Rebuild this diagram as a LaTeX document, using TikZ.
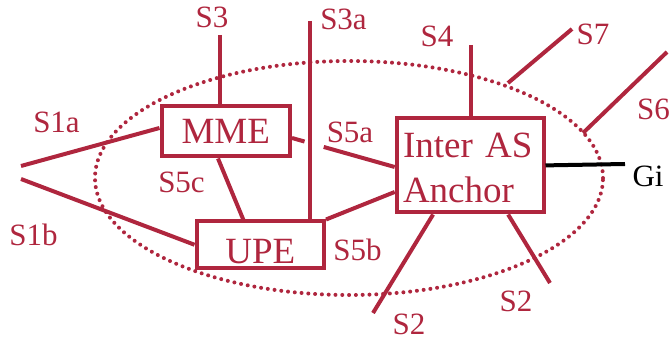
\documentclass[tikz,border=0pt]{standalone}
\usepackage{fontspec}
\setmainfont{Liberation Serif}
\usetikzlibrary{calc}
\definecolor{netred}{RGB}{175,38,62}
\begin{document}
\begin{tikzpicture}[x=1pt,y=-1pt,
  netlink/.style={draw=netred,line width=4pt},
  entity/.style={draw=netred,line width=4pt,text=netred,inner sep=0pt,
    font=\fontsize{37}{45.4}\selectfont},
  iface/.style={text=netred,inner sep=0pt,anchor=base,
    font=\fontsize{31}{34}\selectfont},
  asboundary/.style={draw=netred,line width=4pt,line cap=round,
    dash pattern=on 0pt off 6.8pt}]
\useasboundingbox (0,0) rectangle (672,339);

% network domain boundary
\draw[asboundary] (349,178) ellipse [x radius=254pt, y radius=117pt];

% network entities
\node[entity,minimum width=128.5pt,minimum height=50pt] (mme) at (225.75,131.5) {MME};
\node[entity,minimum width=127.5pt,minimum height=46.5pt,
      text height=36.5pt,text depth=0pt] (upe) at (260.25,244.75) {UPE};
\node[entity,minimum width=146.8pt,minimum height=94.2pt,align=left,
      text width=134.2pt,text height=24.5pt,text depth=40.7pt] (anchor) at (470.1,165.4) {Inter AS\\Anchor};

% free ends of the external interfaces
\coordinate (s1a) at (21,166);
\coordinate (s1b) at (21,179);
\coordinate (s3) at (220,35);
\coordinate (s3a) at (310,21);
\coordinate (s4) at (471,45);
\coordinate (s7in) at (508,83);
\coordinate (s7out) at (572,29);
\coordinate (s6in) at (583,133);
\coordinate (s6out) at (667,52);
\coordinate (gi) at (625,164);
\coordinate (s2l) at (373,313);
\coordinate (s2r) at (550,283);

% interfaces
\draw[netlink] (s1a) -- ([yshift=3.5pt]mme.west);
\draw[netlink] (s1b) -- (upe.west);
\draw[netlink] (s3) -- (s3 |- mme.north);
\draw[netlink] (s3a) -- (s3a |- upe.north);
\draw[netlink] ([xshift=-7.75pt]mme.south) -- ([xshift=-17pt]upe.north);
\coordinate (s5a0) at ([yshift=-6.5pt]mme.east);
\coordinate (s5a1) at ([yshift=-1.6pt]anchor.west);
\draw[netlink] (s5a0) -- ($(s5a0)!0.122!(s5a1)$);
\draw[netlink] ($(s5a0)!0.309!(s5a1)$) -- (s5a1);
\draw[netlink] (upe.north east) -- ([yshift=-26.6pt]anchor.west);
\draw[netlink] (s4) -- (s4 |- anchor.north);
\draw[netlink] (s7in) -- (s7out);
\draw[netlink] (s6in) -- (s6out);
\draw[line width=4pt,draw=black] (anchor.east) -- (gi);
\draw[netlink] ([xshift=-37pt]anchor.south) -- (s2l);
\draw[netlink] ([xshift=38pt]anchor.south) -- (s2r);

% interface names
\node[iface] (ls1a) at (56.5,133) {S1a};
\node[iface] (ls1b) at (33.5,245) {S1b};
\node[iface] (ls3) at (212,28) {S3};
\node[iface] (ls3a) at (343.5,30) {S3a};
\node[iface] (ls4) at (437,47) {S4};
\node[iface] (ls7) at (593,45) {S7};
\node[iface] (ls6) at (653.5,120) {S6};
\node[iface,text=black] (lgi) at (648,187) {Gi};
\node[iface] (ls5a) at (350,143) {S5a};
\node[iface] (ls5b) at (357.5,260) {S5b};
\node[iface] (ls5c) at (181.5,193) {S5c};
\node[iface] (ls2l) at (409,334) {S2};
\node[iface] (ls2r) at (516,311) {S2};
\end{tikzpicture}
\end{document}
